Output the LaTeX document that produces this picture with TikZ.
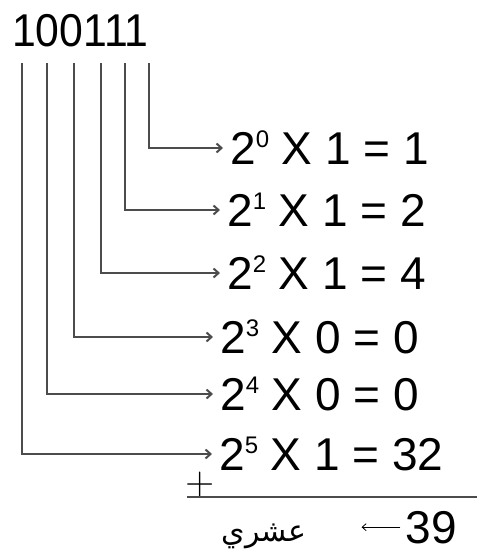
\documentclass[tikz,border=0pt]{standalone}
\usepackage{fontspec}
\setmainfont{Liberation Sans}
\newfontfamily\arabicfont[Script=Arabic]{DejaVu Sans}
\TeXXeTstate=1
\usepackage{tikz}
\usetikzlibrary{arrows.meta}
\newcommand{\pw}[1]{\raisebox{17pt}{\fontsize{24}{24}\selectfont #1}}

\begin{document}
\begin{tikzpicture}[x=1pt, y=-1pt, >={Straight Barb[length=5pt,width=9pt]},
  every node/.style={inner sep=0pt, font=\fontsize{46}{52}\selectfont},
  row/.style={anchor=west, inner xsep=7pt, text height=33pt, text depth=0pt},
  conn/.style={->, line width=2pt, black!70}]
  \useasboundingbox (0,0) rectangle (477,553);
  \node[anchor=base west] (bits) at (12,47) {\scalebox{0.93}[1]{100111}};
  \foreach \p/\x in {0/149,1/125,2/101,3/74,4/47,5/22}
    \coordinate (b\p) at (\x,63);
  % one row per power of two
  \node[row] (r0) at (223,148) {2\pw{0} X 1 = 1};
  \node[row] (r1) at (220,210) {2\pw{1} X 1 = 2};
  \node[row] (r2) at (220,273) {2\pw{2} X 1 = 4};
  \node[row] (r3) at (213,337) {2\pw{3} X 0 = 0};
  \node[row] (r4) at (213,394) {2\pw{4} X 0 = 0};
  \node[row] (r5) at (212,454) {2\pw{5} X 1 = 32};
  \foreach \p in {0,...,5}
    \draw[conn] (b\p) |- (r\p.west);
  % sum
  \node (plus) at (200,485) {\fontsize{40}{40}\selectfont\sffamily +};
  \draw[line width=2pt, black!70] (187,497) -- (477,497);
  \node[anchor=base east] (sum) at (457,543) {39};
  \node[anchor=base] (dec) at (264,541)
    {\fontsize{30}{30}\selectfont\arabicfont\beginR عشري\endR};
  \draw[->, line width=0.8pt, shorten <=5pt, shorten >=55pt,
    >={Straight Barb[length=4pt,width=7pt]}] (sum.west) -- (sum.west -| dec.east);
\end{tikzpicture}
\end{document}
